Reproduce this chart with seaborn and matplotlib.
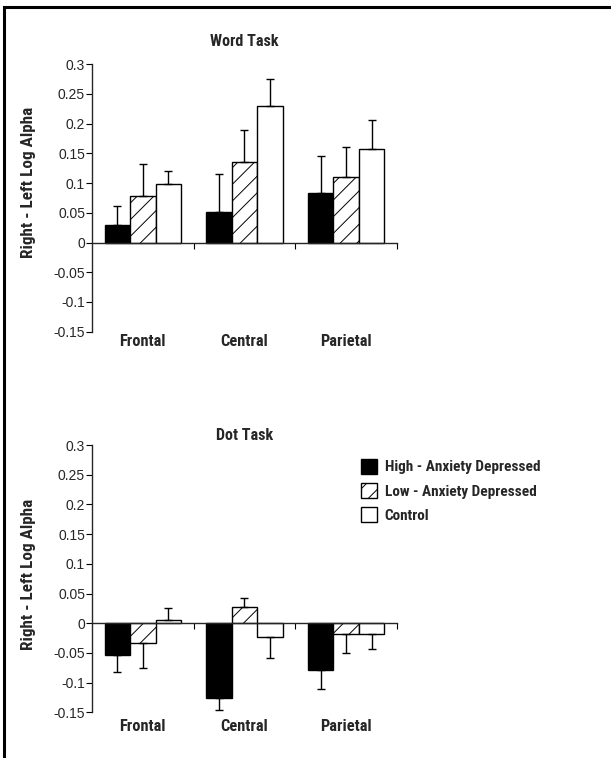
import pandas as pd
import matplotlib
matplotlib.use("Agg")
import matplotlib.pyplot as plt
import seaborn as sns
from matplotlib import font_manager
from matplotlib.patches import Rectangle, Patch

regions = ['Frontal', 'Central', 'Parietal']
groups = ['High - Anxiety Depressed', 'Low - Anxiety Depressed', 'Control']

# word task: means and one-sided SE (per group, per region)
word_means = {
    'High - Anxiety Depressed': [0.029, 0.051, 0.083],
    'Low - Anxiety Depressed': [0.078, 0.135, 0.110],
    'Control': [0.098, 0.230, 0.158],
}
word_err = {
    'High - Anxiety Depressed': [0.032, 0.064, 0.063],
    'Low - Anxiety Depressed': [0.054, 0.055, 0.051],
    'Control': [0.023, 0.046, 0.048],
}

# dot task
dot_means = {
    'High - Anxiety Depressed': [-0.054, -0.126, -0.079],
    'Low - Anxiety Depressed': [-0.033, 0.028, -0.019],
    'Control': [0.006, -0.024, -0.018],
}
dot_err = {
    'High - Anxiety Depressed': [0.028, 0.020, 0.031],
    'Low - Anxiety Depressed': [0.042, 0.015, 0.032],
    'Control': [0.020, 0.034, 0.026],
}

yticks = [0.3, 0.25, 0.2, 0.15, 0.1, 0.05, 0, -0.05, -0.1, -0.15]
ytick_labels = ['0.3', '0.25', '0.2', '0.15', '0.1', '0.05', '0', '-0.05', '-0.1', '-0.15']

colors = {'High - Anxiety Depressed': 'black',
          'Low - Anxiety Depressed': 'white',
          'Control': 'white'}
hatches = {'High - Anxiety Depressed': '', 'Low - Anxiety Depressed': '//', 'Control': ''}

sns.set_style('white')
plt.rcParams['font.family'] = ['Liberation Sans', 'DejaVu Sans']
plt.rcParams['hatch.linewidth'] = 0.7

# the scan uses a condensed bold face, pick the narrowest one installed
fonts = font_manager.fontManager.ttflist
names = {f.name for f in fonts}
bold_font, bold_stretch = ['Liberation Sans', 'DejaVu Sans'], 'normal'
for cand in ['Roboto Condensed', 'Liberation Sans Narrow', 'Open Sans Condensed',
             'DejaVu Sans Condensed']:
    if cand in names:
        bold_font, bold_stretch = [cand, 'DejaVu Sans'], 'normal'
        break
else:
    if any(f.name == 'DejaVu Sans' and f.stretch == 'condensed' for f in fonts):
        bold_font, bold_stretch = ['DejaVu Sans'], 'condensed'
narrow = bold_font[0] != 'Liberation Sans'
scale = 1.0 if narrow else 0.85
bold_kw = dict(family=bold_font, fontweight='bold', fontstretch=bold_stretch)


def to_frame(means):
    rows = []
    for g in groups:
        for r, v in zip(regions, means[g]):
            rows.append({'region': r, 'group': g, 'value': v})
    return pd.DataFrame(rows)


def draw_panel(ax, means, errs, title, title_pad, label_y, cat_pad):
    df = to_frame(means)
    sns.barplot(data=df, x='region', y='value', hue='group', order=regions,
                hue_order=groups, palette=colors, edgecolor='black',
                linewidth=1.0, width=0.75, errorbar=None, legend=False, ax=ax)
    for g, cont in zip(groups, ax.containers):
        xs, ys, lo, hi = [], [], [], []
        for bar, v, e in zip(cont.patches, means[g], errs[g]):
            bar.set_hatch(hatches[g])
            xs.append(bar.get_x() + bar.get_width() / 2)
            ys.append(v)
            # error bar only drawn away from zero
            lo.append(e if v < 0 else 0)
            hi.append(e if v >= 0 else 0)
        ax.errorbar(xs, ys, yerr=[lo, hi], fmt='none', ecolor='black',
                    elinewidth=1.0, capsize=3.2, capthick=1.0, zorder=1)
    ax.set_xlim(-0.5, 2.5)
    ax.set_ylim(-0.15, 0.3)
    ax.set_yticks(yticks)
    ax.set_yticklabels(ytick_labels, fontsize=10)
    ax.set_ylabel('Right - Left Log Alpha', fontsize=12.3 * scale, **bold_kw)
    ax.yaxis.set_label_coords(-0.185, label_y)
    ax.set_xlabel('')
    ax.set_title(title, fontsize=11.6 * scale, pad=title_pad, **bold_kw)
    for s in ['top', 'right']:
        ax.spines[s].set_visible(False)
    ax.spines['bottom'].set_position(('data', 0))
    ax.spines['left'].set_linewidth(1.0)
    ax.spines['bottom'].set_linewidth(1.0)
    ax.set_xticks([0.5, 1.5, 2.5])
    ax.set_xticklabels([])
    ax.tick_params(axis='both', direction='out', length=4, width=0.8,
                   color='black', bottom=True, left=True)
    ax.tick_params(axis='y', pad=1)
    sec = ax.secondary_xaxis('bottom')
    sec.set_xticks(range(len(regions)))
    sec.set_xticklabels(regions, fontsize=11.8 * scale, **bold_kw)
    sec.tick_params(length=0, pad=cat_pad)
    sec.spines['bottom'].set_visible(False)


fig = plt.figure(figsize=(6.11, 7.58), dpi=100)
ax1 = fig.add_axes([0.1506, 0.5624, 0.4991, 0.3528])
ax2 = fig.add_axes([0.1506, 0.0603, 0.4991, 0.3526])

draw_panel(ax1, word_means, word_err, 'Word Task', title_pad=13, label_y=0.558, cat_pad=2)
draw_panel(ax2, dot_means, dot_err, 'Dot Task', title_pad=3.5, label_y=0.517, cat_pad=4.5)

handles = [Patch(facecolor=colors[g], edgecolor='black', hatch=hatches[g], label=g)
           for g in groups]
fig.legend(handles=handles, loc='upper left', bbox_to_anchor=(0.583, 0.401),
           frameon=False,
           prop=font_manager.FontProperties(family=bold_font, weight='bold',
                                            stretch=bold_stretch, size=11 * scale),
           handlelength=1.05, handleheight=1.15, handletextpad=0.52, labelspacing=0.55,
           borderaxespad=0, borderpad=0.3)

# outer frame (cut off at the right and bottom like the scan)
fig.patches.append(Rectangle((0.0065, -0.05), 1.2, 1.05 - 7 / 758, transform=fig.transFigure,
                             fill=False, edgecolor='black', linewidth=2.2, zorder=10))

fig.savefig('out.png', dpi=100)
